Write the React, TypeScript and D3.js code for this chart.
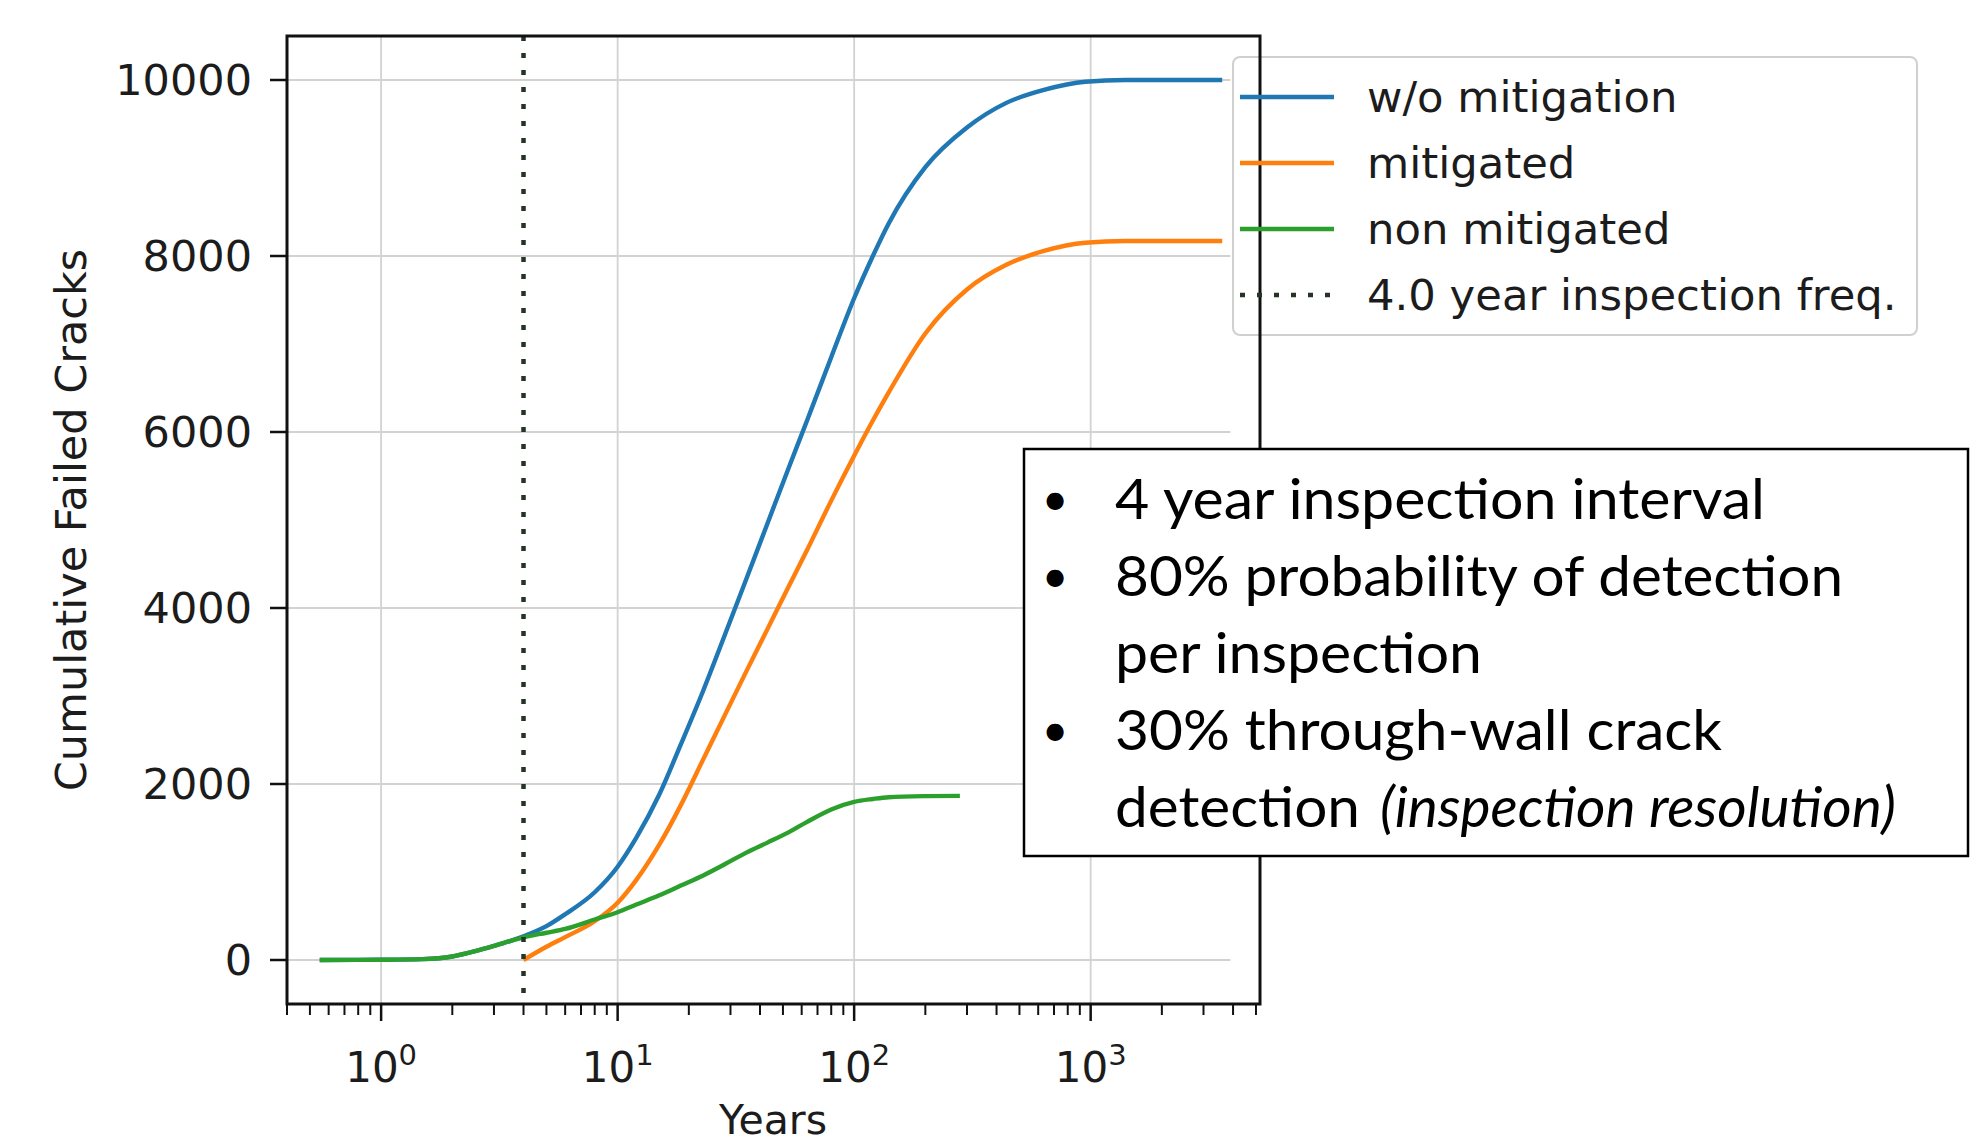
import React from 'react';
import { scaleLog, scaleLinear, line, curveMonotoneX } from 'd3';

// Years sampled for the "w/o mitigation" curve
const years = [0.55, 1, 1.5, 2, 2.5, 3, 3.5, 4, 5, 6, 8, 10, 12, 15, 18.5, 23, 28.6, 35, 43, 53, 63, 80, 100, 120, 140, 200, 300, 440, 640, 950, 1400, 2000, 3600];
const woMitigation = [0, 3, 10, 40, 100, 160, 215, 270, 385, 520, 770, 1060, 1390, 1880, 2450, 3060, 3715, 4330, 4960, 5600, 6120, 6850, 7520, 8000, 8370, 9010, 9460, 9740, 9890, 9980, 10000, 10000, 10000];

const mitigatedYears = [4, 5, 6, 8, 10, 12, 15, 18.5, 23, 28.6, 35, 43, 53, 63, 80, 100, 120, 140, 200, 300, 440, 640, 950, 1400, 2000, 3600];
const mitigated = [0, 150, 260, 440, 650, 910, 1310, 1760, 2280, 2800, 3280, 3760, 4250, 4650, 5220, 5730, 6130, 6450, 7120, 7620, 7900, 8060, 8150, 8170, 8170, 8170];

const nonMitigatedYears = [0.55, 1, 1.5, 2, 2.5, 3, 3.5, 4, 5, 6, 8, 10, 12, 15, 18.5, 23, 28.6, 35, 43, 53, 63, 80, 100, 120, 140, 200, 280];
const nonMitigated = [0, 3, 10, 40, 100, 160, 215, 258, 310, 353, 460, 543, 630, 735, 846, 961, 1093, 1220, 1334, 1453, 1567, 1711, 1797, 1830, 1850, 1862, 1865];

const inspectionYear = 4.0;
const yTicks = [0, 2000, 4000, 6000, 8000, 10000];
const xMajor = [1, 10, 100, 1000];
const gridEndYear = 3900;

const legendItems = [
    { label: 'w/o mitigation', color: '#1f77b4', dotted: false },
    { label: 'mitigated', color: '#ff7f0e', dotted: false },
    { label: 'non mitigated', color: '#2ca02c', dotted: false },
    { label: '4.0 year inspection freq.', color: '#263326', dotted: true },
];

const noteLines = [
    { bullet: true, text: '4 year inspection interval', len: 650 },
    { bullet: true, text: '80% probability of detection', len: 728 },
    { bullet: false, text: 'per inspection', len: 367 },
    { bullet: true, text: '30% through-wall crack', len: 607 },
];

const App: React.FC = () => {
    const width = 1976;
    const height = 1146;
    const plot = { left: 287, right: 1260, top: 36, bottom: 1004 };

    const x = scaleLog().domain([0.4, 5200]).range([plot.left, plot.right]);
    const y = scaleLinear().domain([-500, 10500]).range([plot.bottom, plot.top]);

    const minorTicks = x.ticks().filter(t => !xMajor.includes(t) && t >= 0.4 && t <= 5200);

    const path = (xs: number[], ys: number[]) =>
        line<number>()
            .x((_, i) => x(xs[i]))
            .y(d => y(d))
            .curve(curveMonotoneX)(ys) || '';

    const font = 'DejaVu Sans, sans-serif';
    const textColor = '#1c1c1c';
    const lw = 4.4;

    return (
        <svg width={width} height={height} style={{ position: 'absolute', left: 0, top: 0, background: '#fff' }}>
            <rect width={width} height={height} fill="#fff" />

            {/* grid */}
            <g stroke="#d2d2d2" strokeWidth={1.8}>
                {xMajor.map(t => (
                    <line key={t} x1={x(t)} x2={x(t)} y1={plot.top} y2={plot.bottom} />
                ))}
                {yTicks.map(t => (
                    <line key={t} x1={plot.left} x2={x(gridEndYear)} y1={y(t)} y2={y(t)} />
                ))}
            </g>

            {/* series */}
            <g fill="none" strokeWidth={lw} strokeLinejoin="round" strokeLinecap="butt">
                <path d={path(years, woMitigation)} stroke="#1f77b4" />
                <path d={path(mitigatedYears, mitigated)} stroke="#ff7f0e" />
                <path d={path(nonMitigatedYears, nonMitigated)} stroke="#2ca02c" />
            </g>

            {/* inspection line */}
            <line
                x1={x(inspectionYear)} x2={x(inspectionYear)}
                y1={plot.top} y2={plot.bottom}
                stroke="#263326" strokeWidth={4.5} strokeDasharray="5 12"
            />

            {/* ticks */}
            <g stroke="#111" strokeWidth={2.5}>
                {xMajor.map(t => (
                    <line key={t} x1={x(t)} x2={x(t)} y1={plot.bottom} y2={plot.bottom + 17} />
                ))}
                {minorTicks.map(t => (
                    <line key={t} x1={x(t)} x2={x(t)} y1={plot.bottom} y2={plot.bottom + 11} strokeWidth={2} />
                ))}
                {yTicks.map(t => (
                    <line key={t} x1={plot.left - 17} x2={plot.left} y1={y(t)} y2={y(t)} />
                ))}
            </g>

            {/* tick labels */}
            <g fontFamily={font} fill={textColor}>
                {yTicks.map(t => (
                    <text key={t} x={252} y={y(t)} dy="0.36em" fontSize={43} textAnchor="end">{t}</text>
                ))}
                {xMajor.map(t => (
                    <text key={t} x={x(t)} y={1082} fontSize={42} textAnchor="middle">
                        10<tspan fontSize={29} dy={-17}>{Math.round(Math.log10(t))}</tspan>
                    </text>
                ))}
                <text x={773} y={1134} fontSize={41} textAnchor="middle">Years</text>
                <text
                    transform={`translate(86, ${(plot.top + plot.bottom) / 2}) rotate(-90)`}
                    fontSize={43} textAnchor="middle"
                >Cumulative Failed Cracks</text>
            </g>

            {/* legend frame */}
            <rect x={1233} y={57} width={684} height={278} rx={7} fill="#fff" fillOpacity={0.85} stroke="#d0d0d0" strokeWidth={2} />

            {/* axes frame */}
            <rect x={plot.left} y={plot.top} width={plot.right - plot.left} height={plot.bottom - plot.top}
                fill="none" stroke="#111" strokeWidth={3} />

            {/* legend entries */}
            <g fontFamily={font} fill={textColor} fontSize={43.3}>
                {legendItems.map((d, i) => {
                    const ly = 97 + i * 66;
                    return (
                        <g key={d.label}>
                            <line x1={1240} x2={1334} y1={ly} y2={ly} stroke={d.color}
                                strokeWidth={d.dotted ? 4.5 : lw} strokeDasharray={d.dotted ? '5 12' : undefined} />
                            <text x={1367} y={ly} dy="0.35em">{d.label}</text>
                        </g>
                    );
                })}
            </g>

            {/* note box */}
            <rect x={1024} y={449} width={944} height={407} fill="#fff" stroke="#000" strokeWidth={2.5} />
            <g fontFamily="Lato, 'Open Sans', sans-serif" fontSize={56} fill="#000">
                {noteLines.map((d, i) => {
                    const by = 519 + i * 77;
                    return (
                        <g key={d.text}>
                            {d.bullet && <text x={1055} y={by - 4} fontSize={46} textAnchor="middle">•</text>}
                            <text x={1115} y={by} textLength={d.len} lengthAdjust="spacingAndGlyphs">{d.text}</text>
                        </g>
                    );
                })}
                <text x={1115} y={827} textLength={245} lengthAdjust="spacingAndGlyphs">detection</text>
                <text x={1380} y={827} fontStyle="italic" textLength={516} lengthAdjust="spacingAndGlyphs">(inspection resolution)</text>
            </g>
        </svg>
    );
};

export default App;
